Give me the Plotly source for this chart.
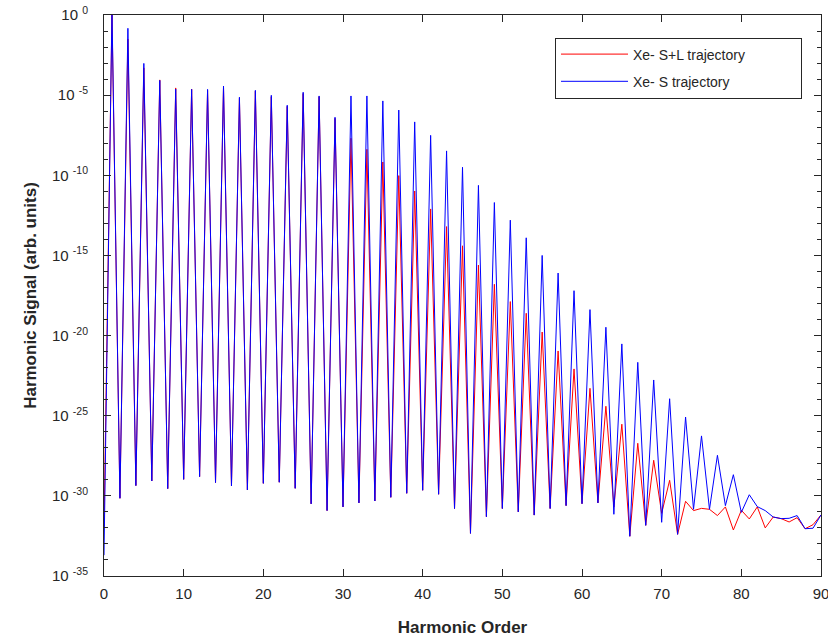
import plotly.graph_objects as go

harmonic_order = list(range(0, 91))

# log10 of harmonic signal, S+L trajectories (red)
log_sl = [-32.0, 0.0, -30.15, -1.5, -29.36, -3.3, -29.07, -4.05, -29.55, -4.55,
          -28.97, -4.62, -28.8, -4.7, -29.17, -4.5, -29.38, -5.2, -29.63, -4.75,
          -29.22, -5.1, -29.15, -5.7, -29.53, -4.9, -30.5, -5.1, -30.92, -6.45,
          -30.69, -7.69, -30.44, -8.38, -30.32, -9.17, -30.09, -10.02, -29.84, -10.98,
          -29.65, -12.1, -29.9, -13.2, -30.79, -14.4, -32.34, -15.6, -31.3, -16.8,
          -30.79, -17.88, -31.0, -18.61, -31.2, -19.78, -30.79, -20.96, -30.61, -22.08,
          -30.49, -23.29, -30.44, -24.41, -30.7, -25.53, -32.52, -26.72, -31.84, -27.78,
          -31.09, -29.03, -32.4, -30.34, -30.92, -30.78, -30.84, -31.23, -30.69, -32.13,
          -30.9, -31.44, -30.69, -32.0, -31.32, -31.42, -31.63, -31.36, -32.05, -31.8,
          -31.19]

# log10 of harmonic signal, short trajectory only (blue)
log_s = [-33.7, 0.3, -30.15, -0.83, -29.36, -3.02, -29.07, -4.08, -29.55, -4.62,
         -28.97, -4.64, -28.8, -4.64, -29.17, -4.43, -29.38, -5.13, -29.63, -4.70,
         -29.22, -5.01, -29.15, -5.63, -29.53, -4.82, -30.5, -5.05, -30.92, -6.38,
         -30.69, -5.05, -30.44, -5.05, -30.32, -5.36, -30.09, -5.93, -29.84, -6.67,
         -29.65, -7.51, -29.9, -8.48, -30.79, -9.5, -32.34, -10.63, -31.3, -11.7,
         -30.79, -12.8, -31.0, -13.9, -31.2, -15.0, -30.79, -16.1, -30.61, -17.2,
         -30.49, -18.38, -30.44, -19.48, -31.15, -20.52, -32.52, -21.67, -31.84, -22.77,
         -31.65, -23.94, -32.4, -25.08, -30.84, -26.26, -30.84, -27.47, -30.61, -28.68,
         -31.03, -29.93, -30.67, -30.92, -31.32, -31.42, -31.4, -31.23, -32.05, -32.02,
         -31.19]

x_ticks = [0, 10, 20, 30, 40, 50, 60, 70, 80, 90]
y_exponents = [0, -5, -10, -15, -20, -25, -30, -35]
series_names = ["Xe- S+L trajectory", "Xe- S trajectory"]

sig_sl = [10 ** v for v in log_sl]
sig_s = [10 ** v for v in log_s]

FONT = "Liberation Sans, Arial, Helvetica, sans-serif"
AX = "#262626"
pad = "\u00a0" * 13

fig = go.Figure()
fig.add_trace(go.Scatter(x=harmonic_order, y=sig_sl, mode="lines",
                         line=dict(color="#ff0000", width=1),
                         name=series_names[0] + pad, legendgroup="a"))
fig.add_trace(go.Scatter(x=harmonic_order, y=sig_s, mode="lines",
                         line=dict(color="#0000ff", width=1),
                         name=series_names[1], legendgroup="b"))

fig.update_layout(
    width=828, height=641,
    margin=dict(l=104, r=7, t=15, b=65, autoexpand=False),
    paper_bgcolor="white", plot_bgcolor="white",
    font=dict(family=FONT, color=AX, size=14),
    showlegend=True,
    legend=dict(x=(555 - 104) / 717, y=(576 - 37.5) / 561, xanchor="left", yanchor="top",
                bordercolor=AX, borderwidth=1, bgcolor="white",
                font=dict(size=14, color=AX, family=FONT),
                traceorder="grouped", tracegroupgap=6, itemwidth=67),
)

fig.update_xaxes(
    range=[0, 90], tickvals=x_ticks, ticktext=[str(v) for v in x_ticks],
    ticks="inside", ticklen=7, tickcolor=AX, tickwidth=1,
    showline=True, linecolor=AX, linewidth=1, mirror="ticks",
    showgrid=False, zeroline=False, automargin=False,
    ticklabeloverflow="allow", ticklabelstandoff=4,
    tickfont=dict(size=15, color=AX, family=FONT),
    title=dict(text="<b>Harmonic Order</b>", font=dict(size=17, color=AX, family=FONT), standoff=20),
)

fig.update_yaxes(
    type="log", range=[-35, 0],
    tickvals=[10 ** e for e in y_exponents],
    ticktext=["10 <sup>%d</sup>" % e for e in y_exponents],
    ticks="inside", ticklen=7, tickcolor=AX, tickwidth=1,
    minor=dict(tickvals=[10 ** (-k) for k in range(36) if k % 5], ticks="inside",
               ticklen=4, tickcolor=AX, tickwidth=1),
    showline=True, linecolor=AX, linewidth=1, mirror="ticks",
    showgrid=False, zeroline=False, automargin=False,
    ticklabeloverflow="allow",
    tickfont=dict(size=15, color=AX, family=FONT),
    ticklabelstandoff=12,
    title=dict(text="<b>Harmonic Signal (arb. units)</b>", font=dict(size=17, color=AX, family=FONT), standoff=11),
)

fig.write_html("out.html", config={"displayModeBar": False},
               post_script="document.body.style.margin='0px';")
